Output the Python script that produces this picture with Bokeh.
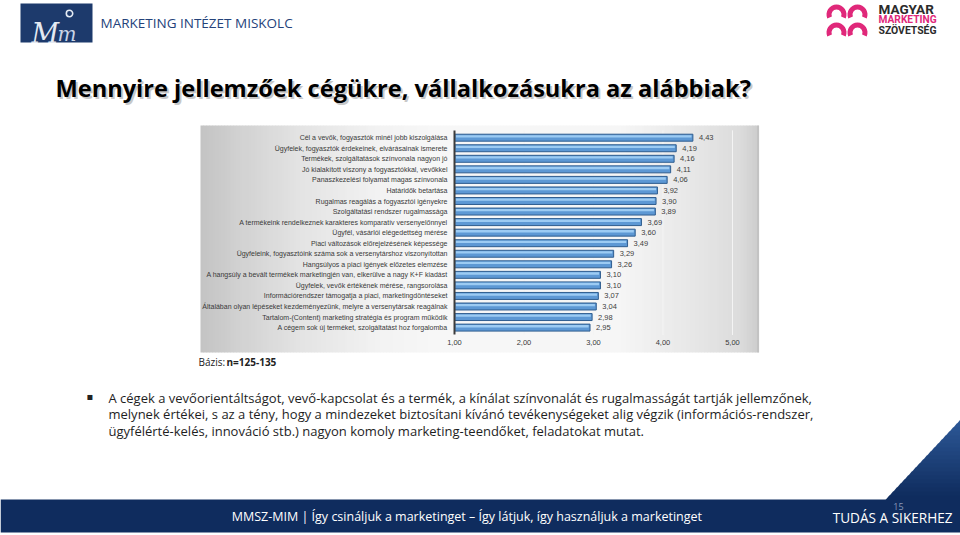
import numpy as np
from bokeh.plotting import figure
from bokeh.models import Range1d, LinearAxis, FixedTicker, CustomJSTickFormatter
from bokeh.core.properties import value
from bokeh.embed import file_html
from bokeh.resources import INLINE

# ---------------- data ----------------
categories = [
    "Cél a vevők, fogyasztók minél jobb kiszolgálása",
    "Ügyfelek, fogyasztók érdekeinek, elvárásainak ismerete",
    "Termékek, szolgáltatások színvonala nagyon jó",
    "Jó kialakított viszony a fogyasztókkal, vevőkkel",
    "Panaszkezelési folyamat magas színvonala",
    "Határidők betartása",
    "Rugalmas reagálás a fogyasztói igényekre",
    "Szolgáltatási rendszer rugalmassága",
    "A termékeink rendelkeznek karakteres komparatív versenyelőnnyel",
    "Ügyfél, vásárlói elégedettség mérése",
    "Piaci változások előrejelzésének képessége",
    "Ügyfeleink, fogyasztóink száma sok a versenytárshoz viszonyítottan",
    "Hangsúlyos a piaci igények előzetes elemzése",
    "A hangsúly a bevált termékek marketingjén van, elkerülve a nagy K+F kiadást",
    "Ügyfelek, vevők értékének mérése, rangsorolása",
    "Információrendszer támogatja a piaci, marketingdöntéseket",
    "Általában olyan lépéseket kezdeményezünk, melyre a versenytársak reagálnak",
    "Tartalom-(Content) marketing stratégia és program működik",
    "A cégem sok új terméket, szolgáltatást hoz forgalomba",
]
scores = [4.43, 4.19, 4.16, 4.11, 4.06, 3.92, 3.90, 3.89, 3.69, 3.60,
          3.49, 3.29, 3.26, 3.10, 3.10, 3.07, 3.04, 2.98, 2.95]
x_ticks = [1, 2, 3, 4, 5]

title_text = "Mennyire jellemzőek cégükre, vállalkozásukra az alábbiak?"
header_left = "MARKETING INTÉZET MISKOLC"
header_right = ["MAGYAR", "MARKETING", "SZÖVETSÉG"]
base_label = "Bázis:"
base_value = "n=125-135"
bullet_lines = [
    "A cégek a vevőorientáltságot, vevő-kapcsolat és a termék, a kínálat színvonalát és rugalmasságát tartják  jellemzőnek,",
    "melynek értékei, s az a tény, hogy a mindezeket biztosítani kívánó tevékenységeket alig végzik (információs-rendszer,",
    "ügyfélérté-kelés, innováció stb.) nagyon komoly marketing-teendőket, feladatokat mutat.",
]
footer_text = "MMSZ-MIM |  Így csináljuk a marketinget – Így látjuk, így használjuk a marketinget"
footer_right = "TUDÁS A SIKERHEZ"
page_no = "15"

# ---------------- figure (page coordinates) ----------------
W, H = 960, 535
p = figure(width=W, height=H, x_range=Range1d(0, W), y_range=Range1d(H, 0),
           min_border=0, x_axis_type=None, y_axis_type=None,
           toolbar_location=None, output_backend="svg",
           outline_line_color=None, background_fill_color="white",
           border_fill_color="white")

# chart scales: value axis and category positions
x0_px, unit_px = 454.0, 69.5
p.extra_x_ranges = {"val": Range1d(start=1 - x0_px / unit_px, end=1 + (W - x0_px) / unit_px)}
y0_px, step_px = 137.2, 10.55
p.extra_y_ranges = {"cat": Range1d(start=(H - y0_px) / step_px, end=-y0_px / step_px)}

idx = list(range(len(categories)))

# ---------------- chart panel background (gradient strips) ----------------
px_left, px_right, py_top, py_bot = 200, 758, 125, 352
edges = np.arange(px_left, px_right + 1, 3)
stops_x = [200, 240, 300, 380, 440, 620, 690, 740, 758]
stops_g = [196, 210, 228, 243, 248, 246, 232, 220, 205]
g = np.interp((edges[:-1] + edges[1:]) / 2, stops_x, stops_g).astype(int)
cols = ["#%02x%02x%02x" % (v, v, v) for v in g]
p.quad(left=edges[:-1], right=edges[1:] + 0.6, top=py_top, bottom=py_bot,
       fill_color=cols, line_color=None)
p.segment(x0=[px_right - 0.5], y0=[py_top], x1=[px_right - 0.5], y1=[py_bot],
          line_color="#b8b8b8", line_width=1)

# vertical gridlines
p.segment(x0=x_ticks[1:], x1=x_ticks[1:], y0=[-0.7] * 4, y1=[18.7] * 4,
          x_range_name="val", y_range_name="cat", line_color="#f4f4f4", line_width=1)

# bars
p.hbar(y=idx, left=1, right=scores, height=0.66, x_range_name="val", y_range_name="cat",
       fill_color="#5d98d4", line_color="#2f5d8f", line_width=1)
p.hbar(y=[i - 0.13 for i in idx], left=1.02, right=[s - 0.02 for s in scores], height=0.22,
       x_range_name="val", y_range_name="cat", fill_color="#9ccbf3", line_color=None)

# value labels
p.text(x=scores, y=idx, text=[f"{s:.2f}".replace(".", ",") for s in scores],
       x_offset=6, x_range_name="val", y_range_name="cat",
       text_font=value("Liberation Sans"), text_font_size="7.5px",
       text_baseline="middle", text_align="left", text_color="#404040")

# category axis
ya = LinearAxis(x_range_name="val", y_range_name="cat", fixed_location=1.0,
                ticker=FixedTicker(ticks=idx),
                major_label_overrides={i: c for i, c in zip(idx, categories)},
                bounds=(-0.65, 18.7))
ya.axis_line_color = "#3c3c3c"
ya.axis_line_width = 2
ya.major_tick_line_color = None
ya.minor_tick_line_color = None
ya.major_tick_out = 0
ya.major_tick_in = 0
ya.major_label_standoff = 7
ya.major_label_text_font = "Liberation Sans"
ya.major_label_text_font_size = "7px"
ya.major_label_text_color = "#3a3a3a"
p.add_layout(ya, "left")

# value axis
xa = LinearAxis(x_range_name="val", fixed_location=336, ticker=FixedTicker(ticks=x_ticks),
                formatter=CustomJSTickFormatter(code="return tick.toFixed(2).replace('.', ',');"),
                bounds=(1, 5))
xa.axis_line_color = None
xa.major_tick_line_color = None
xa.minor_tick_line_color = None
xa.major_tick_out = 0
xa.major_tick_in = 0
xa.major_label_standoff = 3
xa.major_label_text_font = "Liberation Sans"
xa.major_label_text_font_size = "7.5px"
xa.major_label_text_color = "#3a3a3a"
p.add_layout(xa, "below")

# ---------------- header ----------------
p.quad(left=[20], right=[92], top=[3], bottom=[42], fill_color="#1d3a6c", line_color=None)
p.text(x=[31], y=[33], text=["M"], text_font=value("DejaVu Serif"), text_font_style="italic",
       text_font_size="27px", text_color="#e4eaf3", text_baseline="alphabetic")
p.text(x=[57], y=[33], text=["m"], text_font=value("DejaVu Serif"), text_font_style="italic",
       text_font_size="20px", text_color="#c9d4e6", text_baseline="alphabetic")
p.circle(x=[69], y=[13], radius=3.2, fill_color=None, line_color="#e4eaf3", line_width=1.6)
p.text(x=[100], y=[22], text=[header_left], text_font=value("Open Sans"),
       text_font_size="13.5px", text_color="#24427a", text_baseline="middle")

# pink symbol
p.annular_wedge(x=[836, 857, 836, 857], y=[14, 14, 32, 32], inner_radius=5, outer_radius=10,
                start_angle=-0.4, end_angle=np.pi + 0.4, direction="anticlock",
                fill_color="#e0287a", line_color=None)
p.text(x=[878] * 3, y=[8.5, 19, 29.5], text=header_right, text_font=value("Roboto"),
       text_font_style="bold", text_font_size=["13.5px", "10.2px", "10.4px"],
       text_color=["#2b2b2b", "#e0287a", "#2b2b2b"], text_baseline="middle")

# title with shadow
p.text(x=[57], y=[89], text=[title_text], text_font=value("Open Sans"), text_font_style="bold",
       text_font_size="23.6px", text_color="#c8c8c8", text_baseline="alphabetic")
p.text(x=[55], y=[87], text=[title_text], text_font=value("Open Sans"), text_font_style="bold",
       text_font_size="23.6px", text_color="#000000", text_baseline="alphabetic")

# base
p.text(x=[198], y=[361], text=[base_label], text_font=value("Open Sans"),
       text_font_size="10px", text_color="#222222", text_baseline="middle")
p.text(x=[226], y=[361], text=[base_value], text_font=value("Open Sans"), text_font_style="bold",
       text_font_size="10px", text_color="#222222", text_baseline="middle")

# bullet text
p.text(x=[86], y=[396], text=["▪"], text_font=value("DejaVu Sans"),
       text_font_size="10px", text_color="#222222", text_baseline="middle")
p.text(x=[108] * 3, y=[397, 413.5, 430], text=bullet_lines, text_font=value("Open Sans"),
       text_font_size="13px", text_color="#1e1e1e", text_baseline="middle")

# ---------------- footer ----------------
p.quad(left=[0], right=[W], top=[499], bottom=[532], fill_color="#0f2c5e", line_color=None)
nb = 20
ys = np.linspace(419, 499, nb + 1)
xe = 885 + (499 - ys) * (75.0 / 80.0)
tg = np.linspace(0, 1, nb)
tri_cols = ["#%02x%02x%02x" % (int(45 + (15 - 45) * t), int(88 + (44 - 88) * t), int(150 + (94 - 150) * t))
            for t in tg]
p.patches(xs=[[xe[i], W, W, xe[i + 1]] for i in range(nb)],
          ys=[[ys[i], ys[i], ys[i + 1] + 0.5, ys[i + 1] + 0.5] for i in range(nb)],
          fill_color=tri_cols, line_color=None)
p.text(x=[468], y=[516], text=[footer_text], text_font=value("Open Sans"),
       text_font_size="12.5px", text_color="#ffffff", text_baseline="middle", text_align="center")
p.text(x=[952], y=[517], text=[footer_right], text_font=value("Open Sans"),
       text_font_size="13.6px", text_color="#ffffff", text_baseline="middle", text_align="right")
p.text(x=[898], y=[506], text=[page_no], text_font=value("Open Sans"),
       text_font_size="9px", text_color="#8899b8", text_baseline="middle", text_align="center")

open("out.html", "w").write(file_html(p, INLINE))
